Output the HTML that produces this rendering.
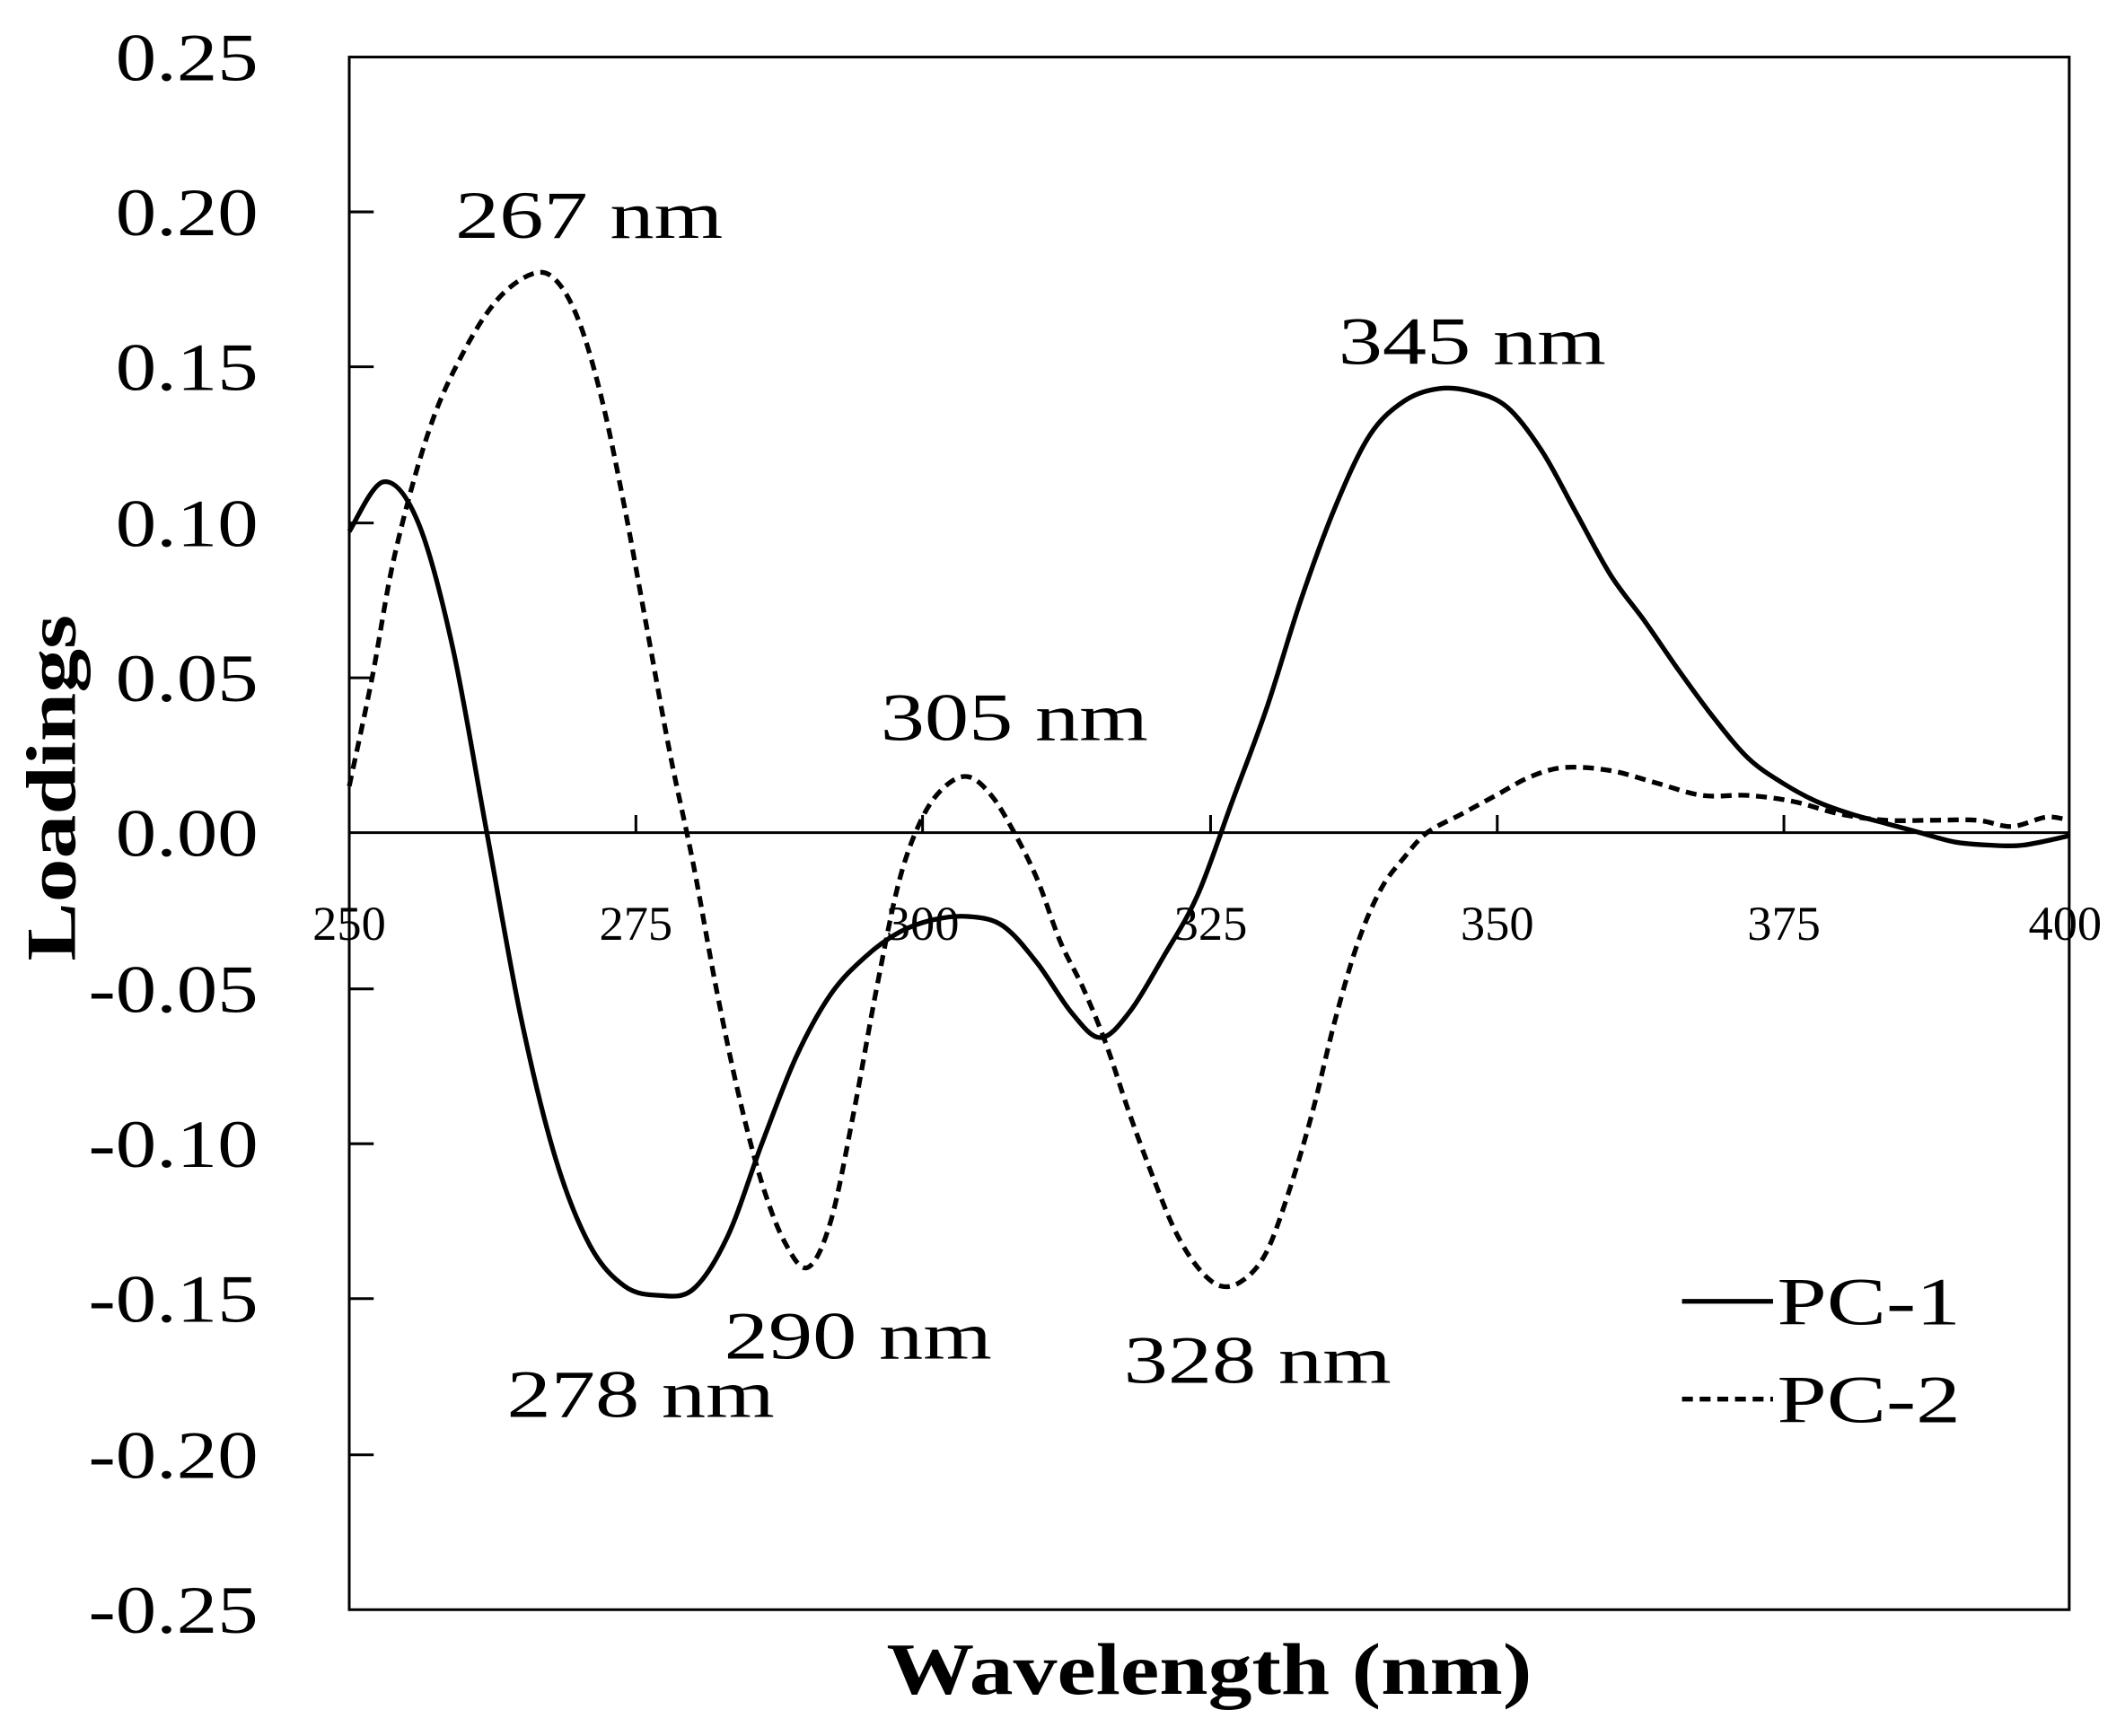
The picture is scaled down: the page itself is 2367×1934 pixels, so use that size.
<!DOCTYPE html>
<html><head><meta charset="utf-8"><style>html,body{margin:0;padding:0;background:#fff}svg{display:block}</style></head>
<body>
<svg id="s" width="2367" height="1934" viewBox="0 0 1564 1278" xmlns="http://www.w3.org/2000/svg" font-family="Liberation Serif, serif">
<rect x="257" y="42" width="1266" height="1143" fill="none" stroke="#000" stroke-width="2"/>
<line x1="257" y1="613" x2="1523" y2="613" stroke="#000" stroke-width="2"/>
<g stroke="#000" stroke-width="2">
<line x1="257" y1="156" x2="275" y2="156"/><line x1="257" y1="270" x2="275" y2="270"/><line x1="257" y1="385" x2="275" y2="385"/><line x1="257" y1="499" x2="275" y2="499"/><line x1="257" y1="728" x2="275" y2="728"/><line x1="257" y1="842" x2="275" y2="842"/><line x1="257" y1="956" x2="275" y2="956"/><line x1="257" y1="1071" x2="275" y2="1071"/>
<line x1="468" y1="600" x2="468" y2="613"/><line x1="679" y1="600" x2="679" y2="613"/><line x1="891" y1="600" x2="891" y2="613"/><line x1="1102" y1="600" x2="1102" y2="613"/><line x1="1313" y1="600" x2="1313" y2="613"/>
</g>
<g font-size="50" text-anchor="end" lengthAdjust="spacingAndGlyphs">
<text x="190" y="59" textLength="105" lengthAdjust="spacingAndGlyphs">0.25</text><text x="190" y="173" textLength="105" lengthAdjust="spacingAndGlyphs">0.20</text><text x="190" y="287" textLength="105" lengthAdjust="spacingAndGlyphs">0.15</text><text x="190" y="402" textLength="105" lengthAdjust="spacingAndGlyphs">0.10</text><text x="190" y="516" textLength="105" lengthAdjust="spacingAndGlyphs">0.05</text><text x="190" y="630" textLength="105" lengthAdjust="spacingAndGlyphs">0.00</text><text x="190" y="745" textLength="125" lengthAdjust="spacingAndGlyphs">-0.05</text><text x="190" y="859" textLength="125" lengthAdjust="spacingAndGlyphs">-0.10</text><text x="190" y="973" textLength="125" lengthAdjust="spacingAndGlyphs">-0.15</text><text x="190" y="1088" textLength="125" lengthAdjust="spacingAndGlyphs">-0.20</text><text x="190" y="1202" textLength="125" lengthAdjust="spacingAndGlyphs">-0.25</text>
</g>
<g font-size="36" text-anchor="middle">
<text x="257" y="692">250</text><text x="468" y="692">275</text><text x="679" y="692">300</text><text x="891" y="692">325</text><text x="1102" y="692">350</text><text x="1313" y="692">375</text><text x="1520" y="692">400</text>
</g>
<text transform="translate(55,580) rotate(-90)" font-size="52" font-weight="bold" text-anchor="middle" textLength="255" lengthAdjust="spacingAndGlyphs">Loadings</text>
<text x="890" y="1247" font-size="54" font-weight="bold" text-anchor="middle" textLength="475" lengthAdjust="spacingAndGlyphs">Wavelength (nm)</text>
<g font-size="50">
<text x="335" y="175" textLength="197" lengthAdjust="spacingAndGlyphs">267 nm</text><text x="985" y="268" textLength="197" lengthAdjust="spacingAndGlyphs">345 nm</text><text x="648" y="545" textLength="197" lengthAdjust="spacingAndGlyphs">305 nm</text><text x="373" y="1043" textLength="197" lengthAdjust="spacingAndGlyphs">278 nm</text><text x="533" y="1000" textLength="197" lengthAdjust="spacingAndGlyphs">290 nm</text><text x="827" y="1018" textLength="197" lengthAdjust="spacingAndGlyphs">328 nm</text>
<text x="1308" y="975" textLength="135" lengthAdjust="spacingAndGlyphs">PC-1</text><text x="1308" y="1047" textLength="135" lengthAdjust="spacingAndGlyphs">PC-2</text>
</g>
<line x1="1238" y1="958" x2="1305" y2="958" stroke="#000" stroke-width="3.5"/>
<line x1="1238" y1="1030" x2="1305" y2="1030" stroke="#000" stroke-width="3.5" stroke-dasharray="8,5"/>
<path id="p1" fill="none" stroke="#000" stroke-width="3.5"/>
<path id="p2" fill="none" stroke="#000" stroke-width="3.5" stroke-dasharray="8,5"/>
</svg>
<script>
var a=[[250,0.097],[253,0.113],[256,0.100],[259,0.06],[262,0.0],[265,-0.06],[268,-0.105],[271,-0.133],[274,-0.146],[277,-0.149],[280,-0.147],[283,-0.13],[286,-0.10],[289,-0.072],[292,-0.052],[295,-0.04],[298,-0.032],[301,-0.028],[304,-0.027],[307,-0.03],[310,-0.042],[313,-0.058],[315.5,-0.066],[318,-0.058],[321,-0.04],[324,-0.02],[327,0.01],[330,0.04],[333,0.075],[336,0.105],[339,0.128],[342,0.139],[345,0.143],[348,0.142],[351,0.137],[354,0.123],[357,0.103],[360,0.083],[363,0.068],[366,0.052],[369,0.037],[372,0.024],[375,0.016],[378,0.01],[381,0.006],[384,0.003],[387,0.0],[390,-0.003],[393,-0.004],[396,-0.004],[400,-0.001]];
var b=[[250,0.015],[252,0.05],[254,0.09],[257,0.13],[260,0.155],[263,0.172],[266,0.180],[268,0.178],[270,0.165],[272,0.14],[274,0.105],[276,0.065],[278,0.025],[280,-0.01],[282,-0.05],[284,-0.085],[286,-0.113],[288,-0.132],[290,-0.140],[292,-0.125],[294,-0.09],[296,-0.05],[298,-0.015],[300,0.005],[302,0.015],[304,0.018],[306,0.012],[308,0.0],[310,-0.015],[312,-0.035],[314,-0.05],[316,-0.068],[318,-0.09],[320,-0.11],[322,-0.128],[324,-0.14],[326,-0.146],[328,-0.144],[330,-0.135],[332,-0.115],[334,-0.09],[336,-0.06],[338,-0.035],[340,-0.018],[342,-0.008],[344,0.0],[347,0.006],[350,0.012],[353,0.018],[356,0.021],[360,0.02],[364,0.016],[368,0.012],[372,0.012],[376,0.01],[380,0.006],[384,0.004],[388,0.004],[392,0.004],[395,0.002],[398,0.005],[400,0.004]];
function P(d){var p=d.map(function(q){return[257+(q[0]-250)*8.44,613-q[1]*2286]});var s="M"+p[0][0]+","+p[0][1];
for(var i=0;i<p.length-1;i++){var p0=p[i-1]||p[i],p1=p[i],p2=p[i+1],p3=p[i+2]||p2;
s+=" C"+(p1[0]+(p2[0]-p0[0])/6)+","+(p1[1]+(p2[1]-p0[1])/6)+" "+(p2[0]-(p3[0]-p1[0])/6)+","+(p2[1]-(p3[1]-p1[1])/6)+" "+p2[0]+","+p2[1];}return s;}
document.getElementById("p1").setAttribute("d",P(a));
document.getElementById("p2").setAttribute("d",P(b));
</script>
</body></html>
